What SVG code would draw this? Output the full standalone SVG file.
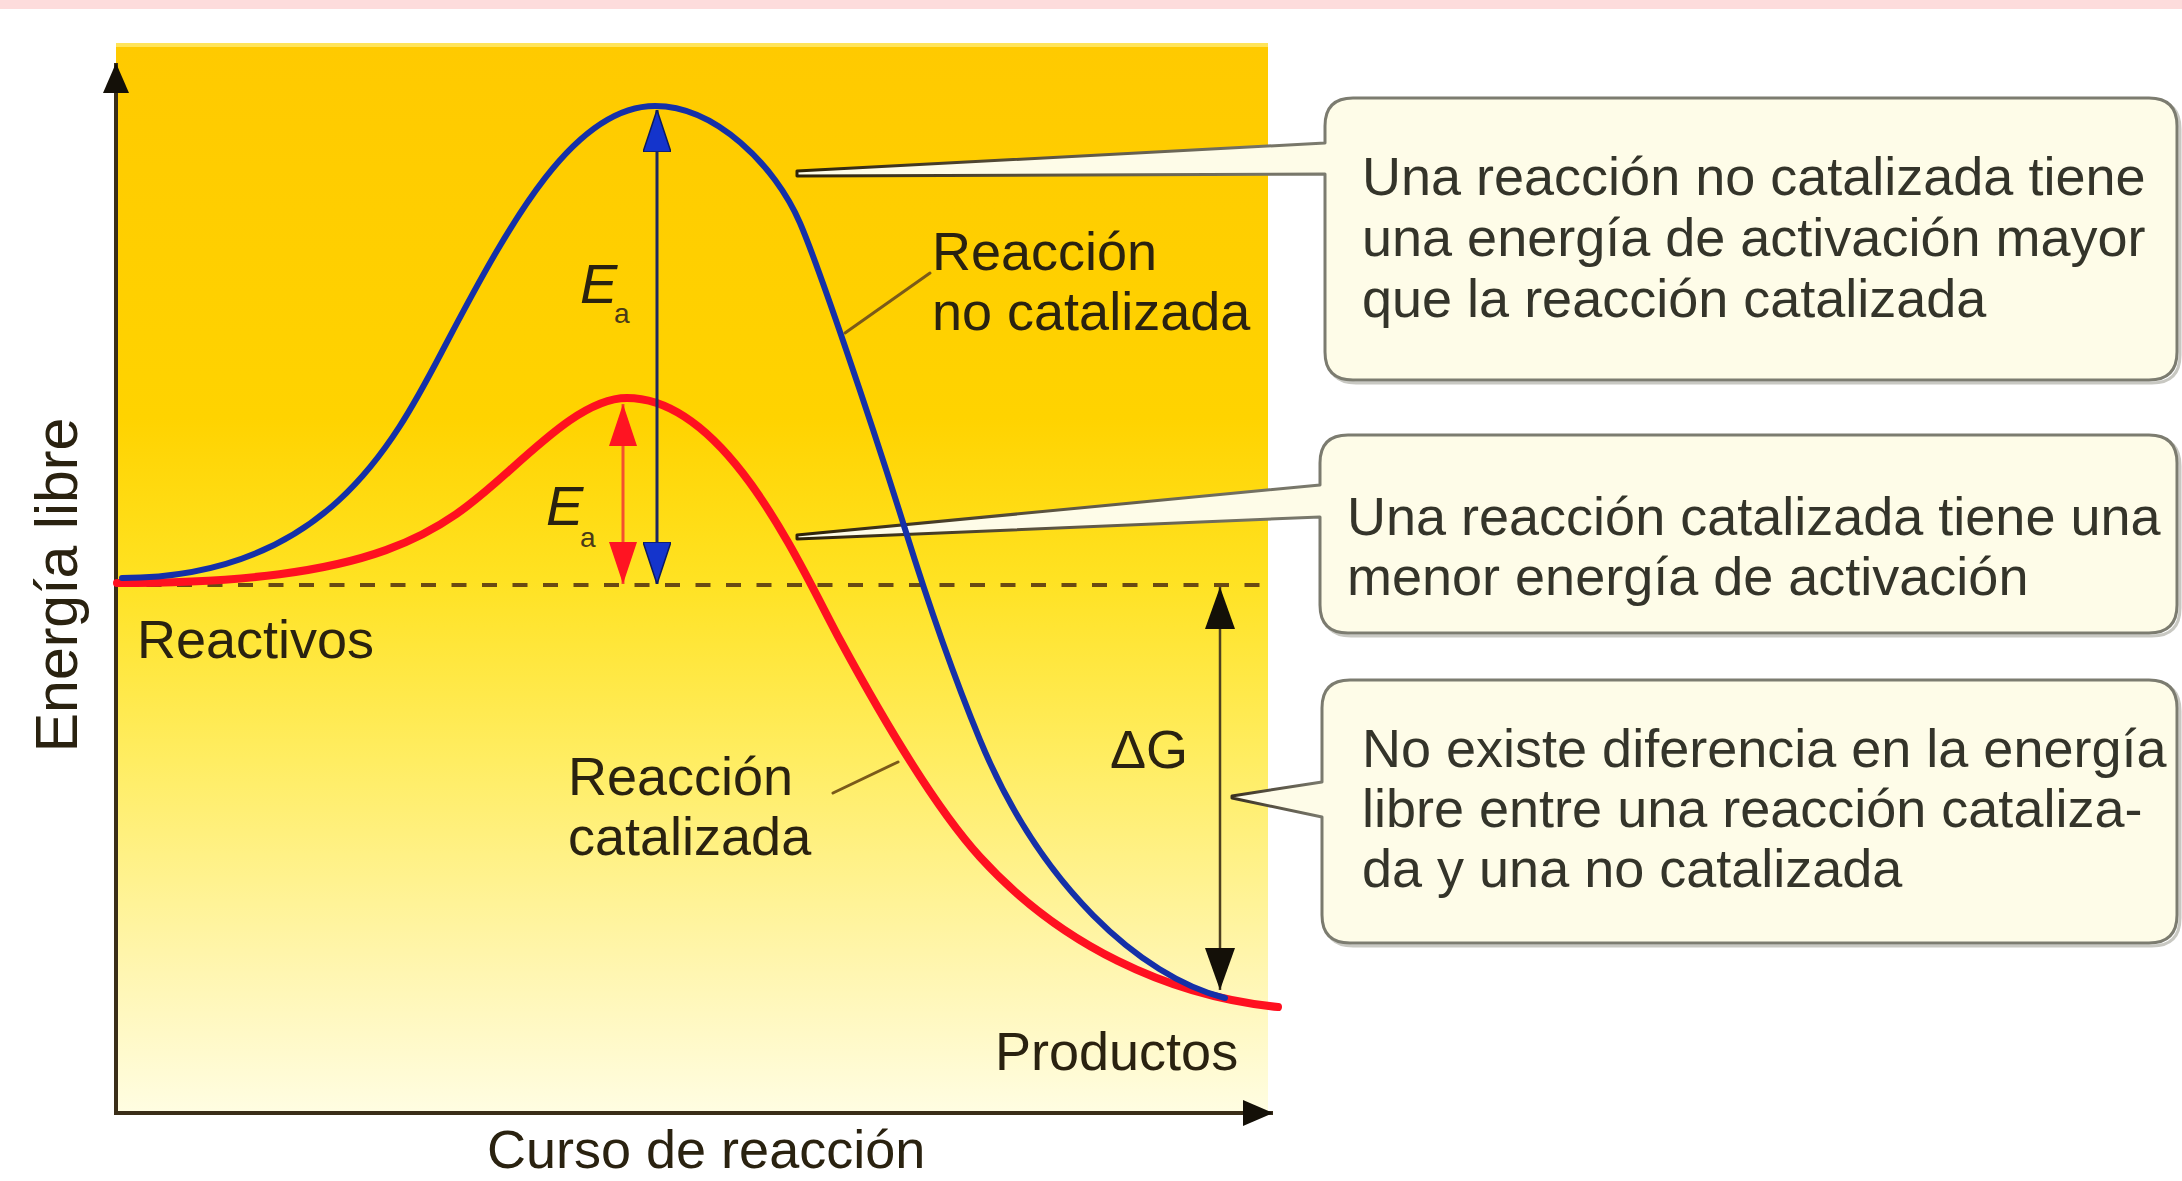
<svg xmlns="http://www.w3.org/2000/svg" width="2182" height="1181" viewBox="0 0 2182 1181">
  <defs>
    <linearGradient id="panelGrad" gradientUnits="userSpaceOnUse" x1="0" y1="44" x2="0" y2="1113">
      <stop offset="0" stop-color="#ffca00"/>
      <stop offset="0.35" stop-color="#ffd300"/>
      <stop offset="0.5" stop-color="#ffe222"/>
      <stop offset="0.67" stop-color="#ffed62"/>
      <stop offset="0.87" stop-color="#fff6b2"/>
      <stop offset="1" stop-color="#fffde2"/>
    </linearGradient>
    <linearGradient id="wedgeA" gradientUnits="userSpaceOnUse" x1="797" y1="0" x2="1330" y2="0">
      <stop offset="0" stop-color="#2e2208"/>
      <stop offset="0.5" stop-color="#5e5644"/>
      <stop offset="1" stop-color="#7c7c70"/>
    </linearGradient>
    <linearGradient id="wedgeB" gradientUnits="userSpaceOnUse" x1="1232" y1="0" x2="1325" y2="0">
      <stop offset="0" stop-color="#3a3020"/>
      <stop offset="1" stop-color="#7c7c70"/>
    </linearGradient>
    <marker id="headBlue" viewBox="0 0 42 28" refX="42" refY="14" markerWidth="42" markerHeight="28" markerUnits="userSpaceOnUse" orient="auto-start-reverse">
      <path d="M0,0 L42,14 L0,28 Z" fill="#1434cc" stroke="#0c1a5e" stroke-width="1.5"/>
    </marker>
    <marker id="headRed" viewBox="0 0 42 28" refX="42" refY="14" markerWidth="42" markerHeight="28" markerUnits="userSpaceOnUse" orient="auto-start-reverse">
      <path d="M0,0 L42,14 L0,28 Z" fill="#ff1422"/>
    </marker>
    <marker id="headBlack" viewBox="0 0 42 30" refX="42" refY="15" markerWidth="42" markerHeight="30" markerUnits="userSpaceOnUse" orient="auto-start-reverse">
      <path d="M0,0 L42,15 L0,30 Z" fill="#141008"/>
    </marker>
    <marker id="axisHead" viewBox="0 0 30 26" refX="30" refY="13" markerWidth="30" markerHeight="26" markerUnits="userSpaceOnUse" orient="auto">
      <path d="M0,0 L30,13 L0,26 Z" fill="#141008"/>
    </marker>
  </defs>
  <style>
    .lbl { font-family: "Liberation Sans", Arial, Helvetica, sans-serif; font-size: 54px; fill: #2a2210; }
    .btxt { font-family: "Liberation Sans", Arial, Helvetica, sans-serif; font-size: 54px; fill: #34342a; }
    .ea { font-family: "Liberation Sans", Arial, Helvetica, sans-serif; font-size: 56px; font-style: italic; fill: #2a2210; }
    .sub { font-family: "Liberation Sans", Arial, Helvetica, sans-serif; font-size: 28px; fill: #4a3a18; }
    .box { fill: #fefce8; stroke-width: 3; stroke-linejoin: round; }
    .shadow { fill: none; stroke: #a4a49a; stroke-width: 3; opacity: 0.6; }
    .axis { stroke: #3a2e18; stroke-width: 4; fill: none; }
    .ptr { stroke: #7a5a1a; stroke-width: 3; fill: none; stroke-linecap: round; }
  </style>

  <!-- top band -->
  <rect x="0" y="0" width="2182" height="9" fill="#fddcdc"/>

  <!-- yellow panel -->
  <g id="panel">
    <rect x="116" y="44" width="1152" height="1069" fill="url(#panelGrad)"/>
    <rect x="116" y="43" width="1152" height="4" fill="#ffe45a"/>
    <line x1="116" y1="585" x2="1272" y2="585" stroke="#6a4a12" stroke-width="4" stroke-dasharray="15 15.5"/>
  </g>

  <!-- axes -->
  <g id="axes">
    <line class="axis" x1="116" y1="1113" x2="116" y2="63" marker-end="url(#axisHead)"/>
    <line class="axis" x1="114" y1="1113" x2="1273" y2="1113" marker-end="url(#axisHead)"/>
  </g>

  <!-- callout boxes -->
  <g id="box-no-catalizada">
    <path class="shadow" d="M1356,101 H2153 Q2180,101 2180,129 V355 Q2180,383 2152,383 H1356 Q1328,383 1328,355"/>
    <path class="box" stroke="url(#wedgeA)" d="M1353,98 H2149 Q2177,98 2177,126 V352 Q2177,380 2149,380 H1353 Q1325,380 1325,352 V174 L797,176 L797,171 L1325,143 V126 Q1325,98 1353,98 Z"/>
    <text class="btxt" x="1362" y="195">Una reacción no catalizada tiene</text>
    <text class="btxt" x="1362" y="256">una energía de activación mayor</text>
    <text class="btxt" x="1362" y="317">que la reacción catalizada</text>
  </g>
  <g id="box-catalizada">
    <path class="shadow" d="M1351,438 H2153 Q2180,438 2180,466 V608 Q2180,636 2152,636 H1351 Q1323,636 1323,608"/>
    <path class="box" stroke="url(#wedgeA)" d="M1348,435 H2149 Q2177,435 2177,463 V605 Q2177,633 2149,633 H1348 Q1320,633 1320,605 V517 L797,539 L797,535 L1320,485 V463 Q1320,435 1348,435 Z"/>
    <text class="btxt" x="1347" y="535">Una reacción catalizada tiene una</text>
    <text class="btxt" x="1347" y="595">menor energía de activación</text>
  </g>
  <g id="box-deltaG">
    <path class="shadow" d="M1353,683 H2153 Q2180,683 2180,711 V918 Q2180,946 2152,946 H1353 Q1325,946 1325,918"/>
    <path class="box" stroke="url(#wedgeB)" d="M1350,680 H2149 Q2177,680 2177,708 V915 Q2177,943 2149,943 H1350 Q1322,943 1322,915 V817 L1232,798 L1232,796 L1322,782 V708 Q1322,680 1350,680 Z"/>
    <text class="btxt" x="1362" y="767">No existe diferencia en la energía</text>
    <text class="btxt" x="1362" y="827">libre entre una reacción cataliza-</text>
    <text class="btxt" x="1362" y="887">da y una no catalizada</text>
  </g>

  <!-- energy curves -->
  <g id="curves" fill="none" stroke-linecap="round">
    <path id="curve-catalizada" d="M117,583 C380,583 440,533 510,470 C550,434 590,398 627,398 C727,398 800,566 840,640 C885,723 935,807.5 980,857 C1060,945 1168,996 1278,1007" stroke="#ff1020" stroke-width="8"/>
    <path id="curve-no-catalizada" d="M122,578 C330,578 397,437 447,342 C512,218.5 575,106 655,106 C715,106 775,165 800,223 C818,264.8 870,417 905,529 C925,593 950,667.4 980,740 C1040,885 1140,976.5 1225,998" stroke="#1530a8" stroke-width="6"/>
  </g>

  <!-- connectors: arrows and pointer lines -->
  <g id="connectors">
    <line x1="657" y1="110" x2="657" y2="584" stroke="#1c2660" stroke-width="3" marker-start="url(#headBlue)" marker-end="url(#headBlue)"/>
    <line x1="623" y1="404" x2="623" y2="584" stroke="#f4502e" stroke-width="3" marker-start="url(#headRed)" marker-end="url(#headRed)"/>
    <line x1="1220" y1="587" x2="1220" y2="990" stroke="#4e4020" stroke-width="2.5" marker-start="url(#headBlack)" marker-end="url(#headBlack)"/>
    <line class="ptr" x1="930" y1="273" x2="845" y2="333"/>
    <line class="ptr" x1="833" y1="793" x2="898" y2="762"/>
  </g>

  <!-- labels -->
  <g id="label-ea-no-cat">
    <text class="ea" x="580" y="303">E</text>
    <text class="sub" x="614" y="323">a</text>
  </g>
  <g id="label-ea-cat">
    <text class="ea" x="546" y="525">E</text>
    <text class="sub" x="580" y="547">a</text>
  </g>
  <g id="label-reaccion-no-cat">
    <text class="lbl" x="932" y="270">Reacción</text>
    <text class="lbl" x="932" y="330">no catalizada</text>
  </g>
  <g id="label-reactivos">
    <text class="lbl" x="137" y="658">Reactivos</text>
  </g>
  <g id="label-reaccion-cat">
    <text class="lbl" x="568" y="795">Reacción</text>
    <text class="lbl" x="568" y="855">catalizada</text>
  </g>
  <g id="label-deltaG">
    <text class="lbl" x="1110" y="768">ΔG</text>
  </g>
  <g id="label-productos">
    <text class="lbl" x="995" y="1070">Productos</text>
  </g>
  <g id="label-x-axis">
    <text class="lbl" x="487" y="1168">Curso de reacción</text>
  </g>
  <g id="label-y-axis">
    <text class="lbl" style="font-size:59px" text-anchor="middle" transform="translate(77,585) rotate(-90)">Energía libre</text>
  </g>
</svg>
